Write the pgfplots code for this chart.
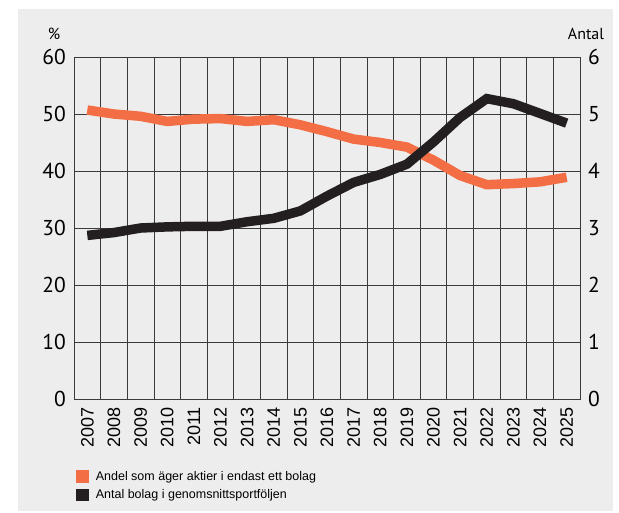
\documentclass[border=0pt]{standalone}
\usepackage{fontspec}
\setmainfont{Liberation Sans}
\newfontfamily\tickfont{PT Sans}
\usepackage{pgfplots}
\pgfplotsset{compat=1.18}

\definecolor{orng}{HTML}{F36E45}
\definecolor{blk}{HTML}{231F20}
\definecolor{bg}{HTML}{ECEDEC}
\definecolor{gridc}{HTML}{3A3A3A}

\pgfplotsset{
  twin/.style={
    at={(74pt,-399pt)}, anchor=south west,
    scale only axis, width=506pt, height=342pt,
    xmin=2006.5, xmax=2025.5,
    major tick length=0pt, minor tick length=0pt,
    xticklabel shift=8pt, yticklabel shift=8pt,
    every tick label/.append style={inner sep=0pt},
    yticklabel style={font=\tickfont\fontsize{21.5}{21.5}\selectfont},
    axis line style={gridc, line width=0.8pt},
    /pgf/number format/assume math mode=true,
    /pgf/number format/1000 sep={},
  }
}

\begin{document}
\begin{tikzpicture}
\fill[white] (0pt,0pt) rectangle (619pt,-512pt);
\fill[bg] (18pt,-9pt) rectangle (613pt,-511pt);

% left axis: share owning one company
\begin{axis}[twin,
  ymin=0, ymax=60, ytick={0,10,...,60},
  xtick={2007,...,2025},
  minor xtick={2006.5,2007.5,...,2025.5},
  xminorgrids, ymajorgrids,
  minor grid style={gridc, line width=0.7pt},
  major grid style={gridc, line width=0.7pt},
  xticklabel style={rotate=90, anchor=east, font=\fontsize{18}{18}\selectfont},
]
\addplot[color=orng, line width=9.5pt] coordinates {
  (2007,50.7) (2008,50.0) (2009,49.6) (2010,48.7) (2011,49.1)
  (2012,49.2) (2013,48.7) (2014,49.0) (2015,48.1) (2016,46.9)
  (2017,45.6) (2018,45.0) (2019,44.2) (2020,41.9) (2021,39.2)
  (2022,37.6) (2023,37.8) (2024,38.1) (2025,38.9)
};
\end{axis}

% right axis: number of companies
\begin{axis}[twin,
  ymin=0, ymax=6, ytick={0,...,6},
  axis x line=none, axis y line*=right,
  legend style={at={(0.004,-0.205)}, anchor=north west, draw=none, fill=none,
    inner sep=0pt, font=\fontsize{12.5}{14}\selectfont, row sep=4pt,
    /tikz/every odd column/.append style={column sep=5pt}},
  legend cell align=left,
  legend image code/.code={\fill[#1, draw=none] (0pt,-6.25pt) rectangle (12.6pt,6.25pt);},
]
\addlegendimage{color=orng}
\addlegendentry{Andel som äger aktier i endast ett bolag}
\addplot[color=blk, line width=9.5pt] coordinates {
  (2007,2.87) (2008,2.92) (2009,3.00) (2010,3.02) (2011,3.03)
  (2012,3.03) (2013,3.11) (2014,3.17) (2015,3.30) (2016,3.56)
  (2017,3.80) (2018,3.94) (2019,4.12) (2020,4.51) (2021,4.94)
  (2022,5.27) (2023,5.18) (2024,5.01) (2025,4.84)
};
\addlegendentry{Antal bolag i genomsnittsportföljen}
\end{axis}

\node[anchor=base, font=\tickfont\fontsize{16}{16}\selectfont] at (54pt,-39pt) {\%};
\node[anchor=base, font=\tickfont\fontsize{16}{16}\selectfont] at (586pt,-39pt) {Antal};
\end{tikzpicture}
\end{document}
